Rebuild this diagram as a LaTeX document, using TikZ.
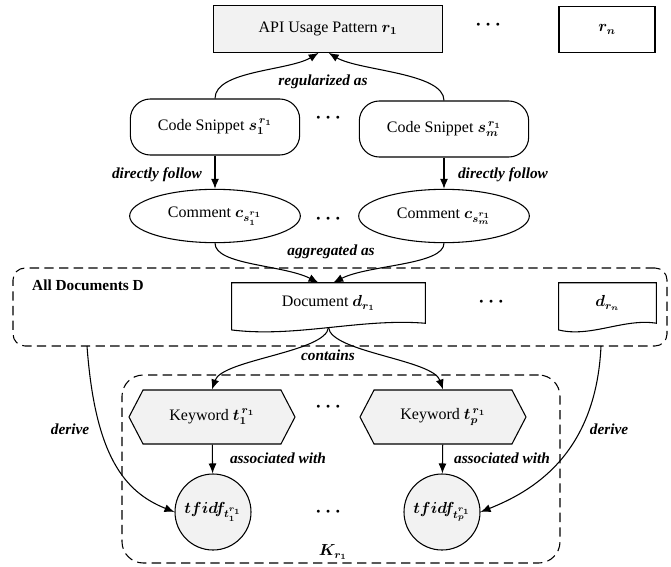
\documentclass[tikz,border=0pt]{standalone}
\usepackage{amsmath}
\usepackage{bm}
\usepackage{fontspec}
\setmainfont{Liberation Serif}
\usetikzlibrary{arrows.meta}
\usetikzlibrary{shapes.geometric}
\usetikzlibrary{shapes.symbols}
\definecolor{boxgray}{RGB}{242,242,242}
\tikzset{
  every node/.style={font=\fontsize{12}{14}\selectfont},
  patbox/.style={draw, line width=0.8pt, minimum height=35pt},
  snipbox/.style={draw, line width=0.8pt, rounded corners=15pt, minimum width=127pt, minimum height=42pt},
  combox/.style={draw, ellipse, line width=0.8pt, minimum width=128pt, minimum height=40pt},
  docbox/.style={minimum height=30pt},
  kwbox/.style={draw, signal, signal to=west and east, signal pointer angle=125, fill=boxgray, line width=0.8pt, minimum width=124.5pt, minimum height=40.5pt},
  tfbox/.style={draw, circle, fill=boxgray, line width=0.8pt, minimum size=57pt, inner sep=0pt},
  grpbox/.style={draw, dash pattern=on 7pt off 4pt, line width=0.8pt},
  rel/.style={font=\fontsize{11.5}{13}\selectfont\bfseries\itshape},
  more/.style={font=\fontsize{11.5}{13}\selectfont\bfseries},
  etc/.style={font=\fontsize{15}{15}\selectfont, inner sep=0pt},
  arr/.style={line width=0.8pt, -{Latex[length=7.5pt,width=6pt]}}
}

\begin{document}
\begin{tikzpicture}[x=0.75pt,y=-0.75pt]
	\useasboundingbox (0,0) rectangle (671,567);
	% groups
	\node[grpbox, rounded corners=9pt, minimum width=490.5pt, minimum height=58.5pt] (alldocs) at (340,307) {};
	\node[grpbox, rounded corners=16pt, minimum width=328.5pt, minimum height=141pt] (kset) at (341,469) {};
	\node[more] (alldocsLbl) at (88,285) {All Documents D};
	\node (kLbl) at (333,552) {$\bm{K_{r_1}}$};
	% patterns
	\node[patbox, fill=boxgray, minimum width=172pt] (api) at (328,29) {API Usage Pattern $\bm{r_1}$};
	\node[patbox, minimum width=72pt] (rn) at (607,29.5) {$\bm{r_n}$};
	\node[etc] (dotsA) at (490,25) {$\bm{\cdots}$};
	% snippets and comments
	\node[snipbox] (s1) at (215,127) {Code Snippet $\bm{s_1^{\,r_1}}$};
	\node[snipbox] (sm) at (444,129) {Code Snippet $\bm{s_m^{\,r_1}}$};
	\node[etc] (dotsB) at (330,118) {$\bm{\cdots}$};
	\node[combox] (c1) at (215,216) {Comment $\bm{c_{s_1^{r_1}}}$};
	\node[combox] (cm) at (444,216) {Comment $\bm{c_{s_m^{r_1}}}$};
	\node[etc] (dotsC) at (330,219) {$\bm{\cdots}$};
	% documents
	\node[docbox, minimum width=145pt] (doc) at (328.5,303) {Document $\bm{d_{r_1}}$};
	\node[docbox, minimum width=73pt] (drn) at (607.5,303) {$\bm{d_{r_n}}$};
	\node[etc] (dotsD) at (493,302) {$\bm{\cdots}$};
	\draw[line width=0.8pt] (doc.north west) -- (doc.north east) -- (doc.south east)
		.. controls ([xshift=-48pt,yshift=4pt]doc.south east) and ([xshift=48pt,yshift=-11pt]doc.south west)
		.. ([yshift=-5pt]doc.south west) -- cycle;
	\draw[line width=0.8pt] (drn.north west) -- (drn.north east) -- (drn.south east)
		.. controls ([xshift=-24pt,yshift=4pt]drn.south east) and ([xshift=24pt,yshift=-11pt]drn.south west)
		.. ([yshift=-5pt]drn.south west) -- cycle;
	% keywords and weights
	\node[kwbox] (k1) at (212,417) {Keyword $\bm{t_1^{\,r_1}}$};
	\node[kwbox] (kp) at (443,417) {Keyword $\bm{t_p^{\,r_1}}$};
	\node[etc] (dotsE) at (330,407) {$\bm{\cdots}$};
	\node[tfbox] (t1) at (213,512) {$\bm{tfidf_{t_1^{r_1}}}$};
	\node[tfbox] (tp) at (442,512) {$\bm{tfidf_{t_p^{r_1}}}$};
	\node[etc] (dotsF) at (330,512) {$\bm{\cdots}$};
	% relations
	\draw[arr] (s1.north) .. controls +(0,-28) and +(-30,18) .. ([xshift=-7pt]api.south);
	\draw[arr] (sm.north) .. controls +(0,-28) and +(30,18) .. ([xshift=0.5pt]api.south);
	\node[rel] (regLbl) at (323,82) {regularized as};
	\draw[arr] (s1) -- (c1);
	\draw[arr] (sm) -- (cm);
	\node[rel] (dfLbl1) at (157,175) {directly follow};
	\node[rel] (dfLbl2) at (503,175) {directly follow};
	\draw[arr] (c1.south) .. controls +(0,22) and +(-35,-18) .. ([xshift=-7.5pt]doc.north);
	\draw[arr] (cm.south) .. controls +(0,22) and +(35,-18) .. ([xshift=3.5pt]doc.north);
	\node[rel] (aggLbl) at (331,252) {aggregated as};
	\draw[arr] ([yshift=-3pt]doc.south) .. controls +(-2,25) and +(10,-30) .. (k1.north);
	\draw[arr] ([yshift=-3pt]doc.south) .. controls +(2,25) and +(-10,-30) .. (kp.north);
	\node[rel] (conLbl) at (328,355) {contains};
	\draw[arr] (k1) -- (t1);
	\draw[arr] (kp) -- (tp);
	\node[rel] (asLbl1) at (278,458) {associated with};
	\node[rel] (asLbl2) at (502,458) {associated with};
	\coordinate (derL) at (87,346);
	\coordinate (derR) at (601,346);
	\draw[arr] (derL) .. controls +(8,110) and +(-50,-20) .. (t1.west);
	\draw[arr] (derR) .. controls +(-5,110) and +(50,-20) .. (tp.east);
	\node[rel] (derLbl1) at (70,429) {derive};
	\node[rel] (derLbl2) at (609,429) {derive};
\end{tikzpicture}
\end{document}
